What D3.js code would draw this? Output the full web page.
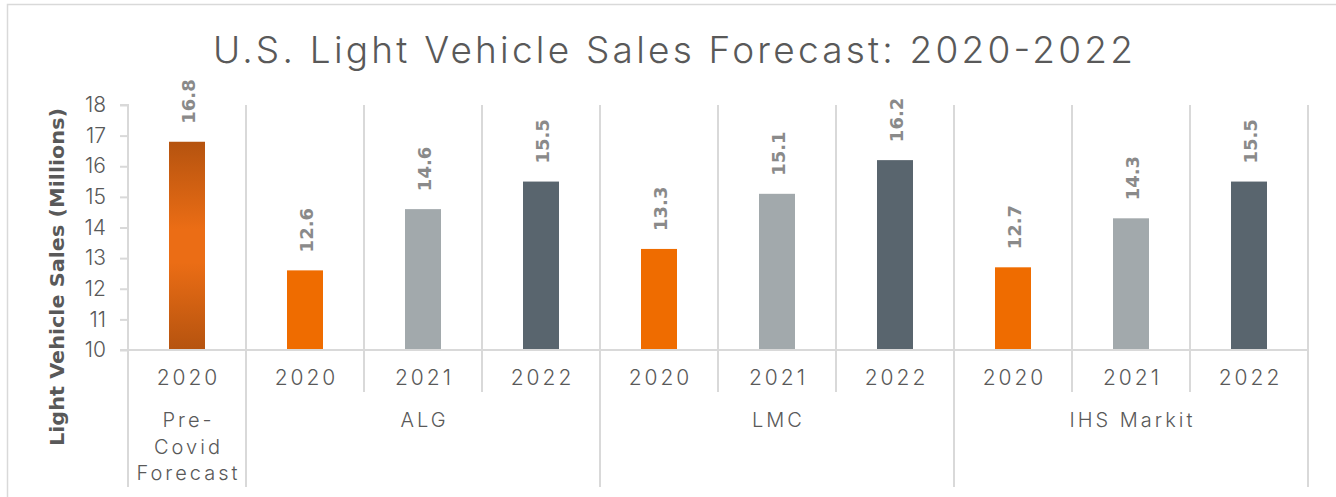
<!DOCTYPE html>
<html>
<head>
<meta charset="utf-8">
<script src="https://cdn.jsdelivr.net/npm/d3@7"></script>
<style>
  html, body { margin: 0; padding: 0; background: #fff; }
  svg { display: block; }
</style>
</head>
<body>
<svg id="chart" width="1336" height="497"></svg>
<script>
// ---- data ----
const title = "U.S. Light Vehicle Sales Forecast: 2020-2022";
const yAxisTitle = "Light Vehicle Sales (Millions)";
const years = ["2020", "2020", "2021", "2022", "2020", "2021", "2022", "2020", "2021", "2022"];
const groups = ["Pre-Covid Forecast", "ALG", "ALG", "ALG", "LMC", "LMC", "LMC", "IHS Markit", "IHS Markit", "IHS Markit"];
const values = [16.8, 12.6, 14.6, 15.5, 13.3, 15.1, 16.2, 12.7, 14.3, 15.5];
const yTicks = [10, 11, 12, 13, 14, 15, 16, 17, 18];
const groupLabelLines = {"Pre-Covid Forecast": ["Pre-", "Covid", "Forecast"], "ALG": ["ALG"], "LMC": ["LMC"], "IHS Markit": ["IHS Markit"]};

// ---- styles ----
const yearColor = {"2020": "#EF6C00", "2021": "#A2A9AC", "2022": "#59656E"};
const gridColor = "#D9D9D9";
const textColor = "#595959";
const labelColor = "#8A8A8A";
const font = "Inter, 'Open Sans', sans-serif";

const svg = d3.select("#chart");
const defs = svg.append("defs");
const grad = defs.append("linearGradient").attr("id", "precovid").attr("x1", 0).attr("y1", 0).attr("x2", 0).attr("y2", 1);
grad.append("stop").attr("offset", "0%").attr("stop-color", "#B5530F");
grad.append("stop").attr("offset", "42%").attr("stop-color", "#EB6D15");
grad.append("stop").attr("offset", "58%").attr("stop-color", "#EB6D15");
grad.append("stop").attr("offset", "100%").attr("stop-color", "#B5530F");

// outer border
svg.append("rect").attr("x", 7.5).attr("y", 4.5).attr("width", 1340).attr("height", 520)
  .attr("fill", "none").attr("stroke", gridColor).attr("stroke-width", 1.5);

const plotLeft = 128, plotRight = 1308, plotTop = 105, plotBottom = 350;

const x = d3.scaleBand().domain(d3.range(values.length)).range([plotLeft, plotRight]).padding(0);
const y = d3.scaleLinear().domain([10, 18]).range([plotBottom, plotTop]);
const bw = x.bandwidth();
const barW = bw * 0.305;

// title
svg.append("text").attr("x", 673).attr("y", 63).attr("text-anchor", "middle")
  .attr("font-family", font).attr("font-weight", 300).attr("font-size", 37)
  .attr("fill", textColor).attr("textLength", 920).attr("lengthAdjust", "spacing")
  .text(title);

// vertical gridlines in plot area (category boundaries)
const boundaries = d3.range(1, values.length + 1).map(i => plotLeft + bw * i);
svg.append("g").selectAll("line").data(boundaries).join("line")
  .attr("x1", d => d).attr("x2", d => d).attr("y1", plotTop).attr("y2", plotBottom)
  .attr("stroke", gridColor).attr("stroke-width", 2);

// bars
svg.append("g").selectAll("rect").data(values).join("rect")
  .attr("x", (d, i) => x(i) + (bw - barW) / 2)
  .attr("width", barW)
  .attr("y", d => y(d))
  .attr("height", d => y(10) - y(d))
  .attr("fill", (d, i) => groups[i] === "Pre-Covid Forecast" ? "url(#precovid)" : yearColor[years[i]]);

// data labels
svg.append("g").selectAll("text").data(values).join("text")
  .attr("transform", (d, i) => `translate(${x(i) + bw / 2 + 1},${y(d) - 18}) rotate(-90)`)
  .attr("text-anchor", "start").attr("dominant-baseline", "central")
  .attr("font-family", "'DejaVu Sans', sans-serif").attr("font-weight", "bold")
  .attr("font-size", 18).attr("fill", labelColor)
  .text(d => d.toFixed(1));

// y axis
const yAxis = svg.append("g").attr("transform", `translate(${plotLeft},0)`)
  .call(d3.axisLeft(y).tickValues(yTicks).tickSize(8).tickPadding(14).tickFormat(d3.format("d")));
yAxis.select(".domain").attr("stroke", gridColor).attr("stroke-width", 2).attr("d", `M-8,${plotTop}H0V${plotBottom}`);
yAxis.selectAll(".tick line").attr("stroke", gridColor).attr("stroke-width", 2);
yAxis.selectAll(".tick text").attr("font-family", font).attr("font-weight", 300)
  .attr("font-size", 21).attr("fill", textColor);

// horizontal baseline
svg.append("line").attr("x1", plotLeft - 8).attr("x2", plotRight).attr("y1", plotBottom).attr("y2", plotBottom)
  .attr("stroke", gridColor).attr("stroke-width", 2);

// x axis lower boundaries
const groupEdges = [0];
for (let i = 1; i < values.length; i++) if (groups[i] !== groups[i - 1]) groupEdges.push(i);
groupEdges.push(values.length);
const allEdges = d3.range(0, values.length + 1);
svg.append("g").selectAll("line").data(allEdges).join("line")
  .attr("x1", i => plotLeft + bw * i).attr("x2", i => plotLeft + bw * i)
  .attr("y1", plotBottom).attr("y2", i => groupEdges.includes(i) ? 487 : 392)
  .attr("stroke", gridColor).attr("stroke-width", 2);

// year labels
svg.append("g").selectAll("text").data(years).join("text")
  .attr("x", (d, i) => x(i) + bw / 2 + 1.5).attr("y", 385)
  .attr("text-anchor", "middle").attr("font-family", font).attr("font-weight", 300)
  .attr("font-size", 21).attr("letter-spacing", 3).attr("fill", textColor)
  .text(d => d);

// group labels
const groupInfo = [];
for (let k = 0; k < groupEdges.length - 1; k++) {
  const a = groupEdges[k], b = groupEdges[k + 1];
  groupInfo.push({name: groups[a], cx: plotLeft + bw * (a + b) / 2});
}
const gl = svg.append("g").selectAll("text").data(groupInfo).join("text")
  .attr("x", d => d.cx + 1.5).attr("y", 427)
  .attr("text-anchor", "middle").attr("font-family", font).attr("font-weight", 300)
  .attr("font-size", 20).attr("letter-spacing", 3).attr("fill", textColor);
gl.selectAll("tspan").data(d => groupLabelLines[d.name].map(t => ({t, cx: d.cx}))).join("tspan")
  .attr("x", d => d.cx + 1.5).attr("dy", (d, i) => i === 0 ? 0 : 26.5)
  .text(d => d.t);

// y axis title
svg.append("text").attr("transform", `translate(57,277) rotate(-90)`)
  .attr("text-anchor", "middle").attr("dominant-baseline", "central")
  .attr("font-family", "'DejaVu Sans', sans-serif").attr("font-weight", "bold")
  .attr("font-size", 20).attr("fill", textColor)
  .attr("textLength", 338).attr("lengthAdjust", "spacingAndGlyphs")
  .text(yAxisTitle);
</script>
</body>
</html>
